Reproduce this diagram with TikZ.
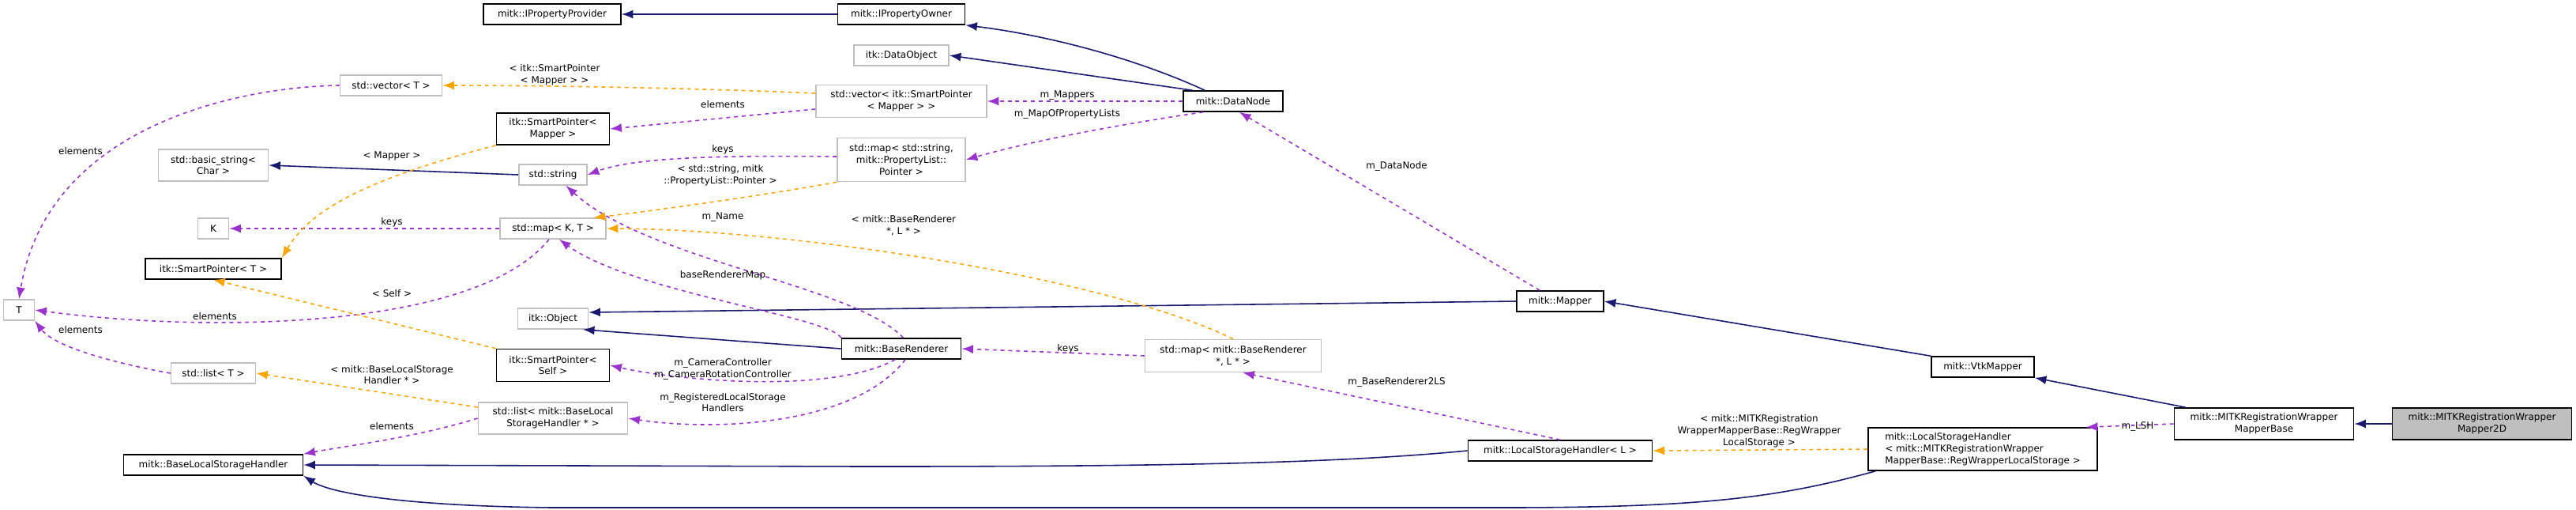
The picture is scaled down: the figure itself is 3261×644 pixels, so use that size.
\documentclass[tikz,border=0pt]{standalone}
\usepackage{fontspec}
\setmainfont{DejaVu Sans}
\usetikzlibrary{arrows, positioning, calc}
\definecolor{inhblue}{RGB}{25, 25, 112}
\definecolor{usepurple}{RGB}{154, 50, 205}
\definecolor{tplorange}{RGB}{255, 165, 0}
\definecolor{boxgrey}{RGB}{191, 191, 191}

\tikzset{
    cls/.style={draw=black, line width=0.45pt, fill=white, align=center, inner sep=0.5pt,
        font=\fontsize{3.4}{4.2}\selectfont, minimum height=0.26cm},
    ext/.style={cls, draw=boxgrey},
    lbl/.style={align=center, inner sep=0pt, font=\fontsize{3.4}{4.2}\selectfont},
    inh/.style={-latex, draw=inhblue, line width=0.45pt},
    use/.style={-latex, draw=usepurple, line width=0.45pt, dash pattern=on 1.4pt off 1.4pt},
    tpl/.style={-latex, draw=tplorange, line width=0.45pt, dash pattern=on 1.4pt off 1.4pt}
}

\begin{document}
\begin{tikzpicture}[x=0.01cm, y=0.01cm]
    \useasboundingbox (0,0) rectangle (3261,-644);

    % Classes
    \node[cls, minimum width=1.74cm] (provider) at (699,-18) {mitk::IPropertyProvider};
    \node[cls, minimum width=1.61cm] (owner) at (1141,-18) {mitk::IPropertyOwner};
    \node[ext, minimum width=1.20cm] (dataobject) at (1141,-70) {itk::DataObject};
    \node[ext, minimum width=2.16cm, minimum height=0.41cm] (vecsp) at (1141,-128) {std::vector< itk::SmartPointer\\< Mapper > >};
    \node[cls, minimum width=1.26cm] (datanode) at (1561,-128) {mitk::DataNode};
    \node[ext, minimum width=1.29cm] (vect) at (495,-108) {std::vector< T >};
    \node[cls, minimum width=1.43cm, minimum height=0.40cm] (spmapper) at (700,-163) {itk::SmartPointer<\\Mapper >};
    \node[ext, minimum width=1.39cm, minimum height=0.40cm] (basicstr) at (270,-209) {std::basic\_string<\\Char >};
    \node[ext, minimum width=0.86cm] (stdstring) at (700,-221) {std::string};
    \node[ext, minimum width=1.62cm, minimum height=0.55cm] (mapprop) at (1141,-202) {std::map< std::string,\\mitk::PropertyList::\\Pointer >};
    \node[ext, minimum width=0.39cm] (keyk) at (270,-289) {K};
    \node[ext, minimum width=1.34cm] (mapkt) at (700,-289) {std::map< K, T >};
    \node[cls, minimum width=1.72cm] (spt) at (270,-340) {itk::SmartPointer< T >};
    \node[ext, minimum width=0.39cm] (tee) at (24,-392) {T};
    \node[ext, minimum width=0.89cm] (itkobject) at (700,-403) {itk::Object};
    \node[cls, minimum width=1.43cm, minimum height=0.41cm] (spself) at (700,-462) {itk::SmartPointer<\\Self >};
    \node[cls, minimum width=1.51cm] (renderer) at (1141,-441) {mitk::BaseRenderer};
    \node[ext, minimum width=1.07cm] (listt) at (270,-472) {std::list< T >};
    \node[ext, minimum width=2.23cm, minimum height=0.41cm] (maprend) at (1561,-450) {std::map< mitk::BaseRenderer\\*, L * >};
    \node[ext, minimum width=1.89cm, minimum height=0.40cm] (listbase) at (700,-529) {std::list< mitk::BaseLocal\\StorageHandler * >};
    \node[cls, minimum width=2.27cm] (basehandler) at (270,-588) {mitk::BaseLocalStorageHandler};
    \node[cls, minimum width=1.10cm] (mapper) at (1975,-381) {mitk::Mapper};
    \node[cls, minimum width=1.30cm] (vtkmapper) at (2510,-464) {mitk::VtkMapper};
    \node[cls, minimum width=2.33cm] (handlerl) at (1975,-570) {mitk::LocalStorageHandler< L >};
    \node[cls, minimum width=2.90cm, minimum height=0.54cm, align=left] (handlerreg) at (2510,-568) {mitk::LocalStorageHandler\\< mitk::MITKRegistrationWrapper\\MapperBase::RegWrapperLocalStorage >};
    \node[cls, minimum width=2.27cm, minimum height=0.40cm] (wrapbase) at (2866,-536) {mitk::MITKRegistrationWrapper\\MapperBase};
    \node[cls, fill=boxgrey, minimum width=2.27cm, minimum height=0.40cm] (wrap2d) at (3142,-536) {mitk::MITKRegistrationWrapper\\Mapper2D};

    % Inheritance
    \draw[inh] (owner.west) -- (provider.east);
    \draw[inh] (datanode.north west) ++(28,0) .. controls (1440,-75) and (1330,-45) .. (owner.south east);
    \draw[inh] (datanode.165) -- (dataobject.east);
    \draw[inh] (mapper.west) -- (itkobject.10);
    \draw[inh] (renderer.west) -- (itkobject.-20);
    \draw[inh] (stdstring.west) -- (basicstr.east);
    \draw[inh] (vtkmapper.north west) -- (mapper.east);
    \draw[inh] (wrapbase.north west) ++(15,0) -- (vtkmapper.south east);
    \draw[inh] (wrap2d.west) -- (wrapbase.east);
    \draw[inh] (handlerl.west) .. controls (1700,-585) and (1500,-590) .. (1100,-590) -- (basehandler.east);
    \draw[inh] (handlerreg.south west) ++(10,0) .. controls (2250,-630) and (2150,-642) .. (1900,-642)
        -- (700,-642) .. controls (520,-640) and (420,-625) .. (basehandler.south east);

    % Members
    \draw[use] (vecsp.west |- 0,-138) -- (spmapper.east);
    \draw[use] (vect.west) .. controls (300,-110) and (60,-160) .. (tee.north);
    \draw[use] (datanode.west) -- (vecsp.east |- datanode.west);
    \draw[use] (datanode.-160) .. controls (1400,-160) and (1300,-180) .. (mapprop.east);
    \draw[use] (mapprop.west |- 0,-198) .. controls (900,-196) and (800,-200) .. (stdstring.east);
    \draw[use] (mapkt.west) -- (keyk.east);
    \draw[use] (mapkt.-110) .. controls (600,-420) and (250,-420) .. (tee.east);
    \draw[use] (renderer.80) .. controls (1080,-360) and (820,-330) .. (stdstring.-40);
    \draw[use] (renderer.north west) .. controls (1050,-400) and (800,-370) .. (mapkt.-60);
    \draw[use] (renderer.-120) .. controls (1050,-500) and (850,-480) .. (spself.east);
    \draw[use] (renderer.-70) .. controls (1080,-540) and (900,-545) .. (listbase.east);
    \draw[use] (listt.west) .. controls (150,-460) and (70,-440) .. (tee.south east);
    \draw[use] (listbase.west) .. controls (520,-555) and (430,-565) .. (basehandler.north east);
    \draw[use] (maprend.west) -- (renderer.east);
    \draw[use] (mapper.north west) ++(30,0) -- (datanode.-60);
    \draw[use] (handlerl.north) -- (maprend.-60);
    \draw[use] (wrapbase.west) -- (handlerreg.12);

    % Templates
    \draw[tpl] (vecsp.west |- 0,-118) .. controls (900,-112) and (700,-108) .. (vect.east);
    \draw[tpl] (spmapper.south west) .. controls (450,-230) and (390,-270) .. (spt.north east);
    \draw[tpl] (mapprop.south west) .. controls (950,-250) and (800,-270) .. (mapkt.15);
    \draw[tpl] (maprend.north) .. controls (1400,-350) and (1000,-290) .. (mapkt.east);
    \draw[tpl] (spself.north west) -- (spt.south);
    \draw[tpl] (listbase.west |- 0,-515) -- (listt.east);
    \draw[tpl] (handlerreg.west) -- (handlerl.east);

    % Labels
    \node[lbl] (l1) at (702,-95) {< itk::SmartPointer\\< Mapper > >};
    \node[lbl] (l2) at (915,-132) {elements};
    \node[lbl] (l3) at (102,-191) {elements};
    \node[lbl] (l4) at (1351,-121) {m\_Mappers};
    \node[lbl] (l5) at (1351,-144) {m\_MapOfPropertyLists};
    \node[lbl] (l6) at (915,-189) {keys};
    \node[lbl] (l7) at (912,-222) {< std::string, mitk\\::PropertyList::Pointer >};
    \node[lbl] (l8) at (496,-197) {< Mapper >};
    \node[lbl] (l9) at (496,-281) {keys};
    \node[lbl] (l10) at (915,-275) {m\_Name};
    \node[lbl] (l11) at (1144,-285) {< mitk::BaseRenderer\\*, L * >};
    \node[lbl] (l12) at (915,-348) {baseRendererMap};
    \node[lbl] (l13) at (496,-371) {< Self >};
    \node[lbl] (l14) at (272,-400) {elements};
    \node[lbl] (l15) at (102,-417) {elements};
    \node[lbl] (l16) at (915,-467) {m\_CameraController\\m\_CameraRotationController};
    \node[lbl] (l17) at (496,-474) {< mitk::BaseLocalStorage\\Handler * >};
    \node[lbl] (l18) at (915,-509) {m\_RegisteredLocalStorage\\Handlers};
    \node[lbl] (l19) at (496,-539) {elements};
    \node[lbl] (l20) at (1352,-441) {keys};
    \node[lbl] (l21) at (1768,-210) {m\_DataNode};
    \node[lbl] (l22) at (1768,-483) {m\_BaseRenderer2LS};
    \node[lbl] (l23) at (2227,-545) {< mitk::MITKRegistration\\WrapperMapperBase::RegWrapper\\LocalStorage >};
    \node[lbl] (l24) at (2706,-539) {m\_LSH};
\end{tikzpicture}
\end{document}
